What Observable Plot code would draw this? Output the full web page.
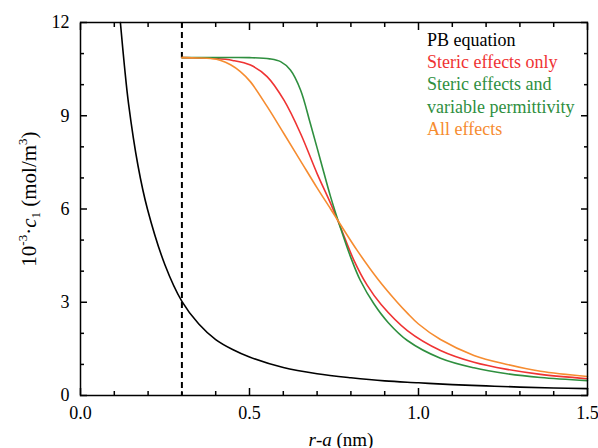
<!DOCTYPE html>
<html><head><meta charset="utf-8">
<script src="https://cdn.jsdelivr.net/npm/d3@7"></script>
<script src="https://cdn.jsdelivr.net/npm/@observablehq/plot@0.6"></script>
<style>body{margin:0;background:#fff;}</style>
</head><body><div id="chart"></div>
<script>
// PB equation
const pbR = [0.118,0.13,0.142,0.17,0.198,0.25,0.3,0.35,0.4,0.45,0.5,0.6,0.7,0.8,0.9,1.0,1.1,1.2,1.3,1.4,1.5];
const pbC = [12,10.6,9.4,7.4,6.0,4.2,3.03,2.3,1.8,1.48,1.24,0.9,0.70,0.57,0.47,0.41,0.35,0.31,0.27,0.24,0.22];
// Steric effects only
const stericR = [0.3,0.35,0.40,0.45,0.503,0.552,0.602,0.651,0.700,0.740,0.769,0.809,0.848,0.89,0.967,1.065,1.164,1.262,1.361,1.5];
const stericC = [10.87,10.86,10.84,10.78,10.63,10.26,9.50,8.43,7.14,6.18,5.42,4.35,3.55,2.92,2.09,1.45,1.07,0.84,0.68,0.54];
// Steric effects and variable permittivity
const permR = [0.3,0.4,0.5,0.56,0.592,0.621,0.651,0.680,0.710,0.740,0.769,0.799,0.828,0.868,0.91,0.967,1.065,1.164,1.262,1.361,1.5];
const permC = [10.87,10.87,10.87,10.83,10.74,10.47,9.83,8.75,7.57,6.39,5.40,4.46,3.70,2.95,2.35,1.77,1.2,0.89,0.70,0.58,0.48];
// All effects
const allR = [0.3,0.35,0.385,0.415,0.444,0.473,0.503,0.552,0.602,0.651,0.700,0.740,0.769,0.819,0.88,0.937,0.967,1.0,1.065,1.164,1.262,1.361,1.5];
const allC = [10.87,10.86,10.84,10.78,10.64,10.42,10.09,9.30,8.42,7.55,6.68,6.0,5.50,4.66,3.74,3.0,2.65,2.3,1.80,1.29,1.00,0.78,0.61];

const ionBoundary = [0.3];
const seriesNames = ["PB equation","Steric effects only","Steric effects and variable permittivity","All effects"];
const seriesColors = ["#000000","#ef3333","#2f8f3f","#f68c30"];
const legendLines = [["PB equation",0],["Steric effects only",1],["Steric effects and",2],["variable permittivity",2],["All effects",3]];
const xMajor = [0,0.5,1.0,1.5];
const xMinor = [0.1,0.2,0.3,0.4,0.6,0.7,0.8,0.9,1.1,1.2,1.3,1.4];
const yMajor = [0,3,6,9,12];
const yMinor = [1,2,4,5,7,8,10,11];

const table = [];
[[pbR,pbC],[stericR,stericC],[permR,permC],[allR,allC]].forEach(([R,C],k)=>{
  R.forEach((r,i)=>table.push({r, c:C[i], s:seriesNames[k]}));
});

const serif = "Liberation Serif";
const fmtX = d3.format(".1f");
const tickStyle = {strokeWidth:1.5};
const chart = Plot.plot({
  width:598, height:448,
  marginLeft:80, marginRight:11, marginTop:22, marginBottom:53,
  style:{fontFamily:serif, fontSize:"18px", color:"black", background:"white"},
  x:{domain:[0,1.5]},
  y:{domain:[0,12]},
  color:{domain:seriesNames, range:seriesColors},
  marks:[
    Plot.ruleX(ionBoundary,{stroke:"black", strokeWidth:2, strokeDasharray:"6,4"}),
    Plot.line(table,{x:"r", y:"c", z:"s", stroke:"s", strokeWidth:1.6, curve:"catmull-rom"}),
    Plot.axisX(xMajor,{anchor:"bottom", tickSize:-7, tickPadding:17.5, tickFormat:fmtX, label:null, ...tickStyle}),
    Plot.axisX(xMinor,{anchor:"bottom", tickSize:-4, tickFormat:()=>"", label:null, ...tickStyle}),
    Plot.axisX(xMajor,{anchor:"top", tickSize:-7, tickFormat:()=>"", label:null, ...tickStyle}),
    Plot.axisX(xMinor,{anchor:"top", tickSize:-4, tickFormat:()=>"", label:null, ...tickStyle}),
    Plot.axisY(yMajor,{anchor:"left", tickSize:-7, tickPadding:18, label:null, ...tickStyle}),
    Plot.axisY(yMinor,{anchor:"left", tickSize:-4, tickFormat:()=>"", label:null, ...tickStyle}),
    Plot.axisY(yMajor,{anchor:"right", tickSize:-7, tickFormat:()=>"", label:null, ...tickStyle}),
    Plot.axisY(yMinor,{anchor:"right", tickSize:-4, tickFormat:()=>"", label:null, ...tickStyle}),
    Plot.frame({stroke:"black", strokeWidth:1.5})
  ]
});
document.getElementById("chart").append(chart);

const svg = d3.select(chart);
// legend
const lg = svg.append("g").attr("font-family",serif).attr("font-size","18px").attr("text-anchor","start");
legendLines.forEach(([t,k],i)=>{
  lg.append("text").attr("x",427).attr("y",46+i*22.2).attr("fill",seriesColors[k]).text(t);
});
// y title
const yt = svg.append("text").attr("transform","translate(36,199) rotate(-90)")
  .attr("text-anchor","middle").attr("font-family",serif).attr("font-size","21px").attr("fill","black");
yt.append("tspan").text("10");
yt.append("tspan").attr("font-size","13px").attr("dy","-9").text("-3");
yt.append("tspan").attr("dy","9").text("\u00B7");
yt.append("tspan").attr("font-style","italic").text("c");
yt.append("tspan").attr("font-size","13px").attr("dy","4").text("1");
yt.append("tspan").attr("dy","-4").text(" (mol/m");
yt.append("tspan").attr("font-size","13px").attr("dy","-9").text("3");
yt.append("tspan").attr("dy","9").text(")");
// x title
const xt = svg.append("text").attr("x",341).attr("y",446).attr("text-anchor","middle")
  .attr("font-family",serif).attr("font-size","19px").attr("fill","black");
xt.append("tspan").attr("font-style","italic").text("r");
xt.append("tspan").text("-");
xt.append("tspan").attr("font-style","italic").text("a");
xt.append("tspan").text(" (nm)");
</script>
</body></html>
